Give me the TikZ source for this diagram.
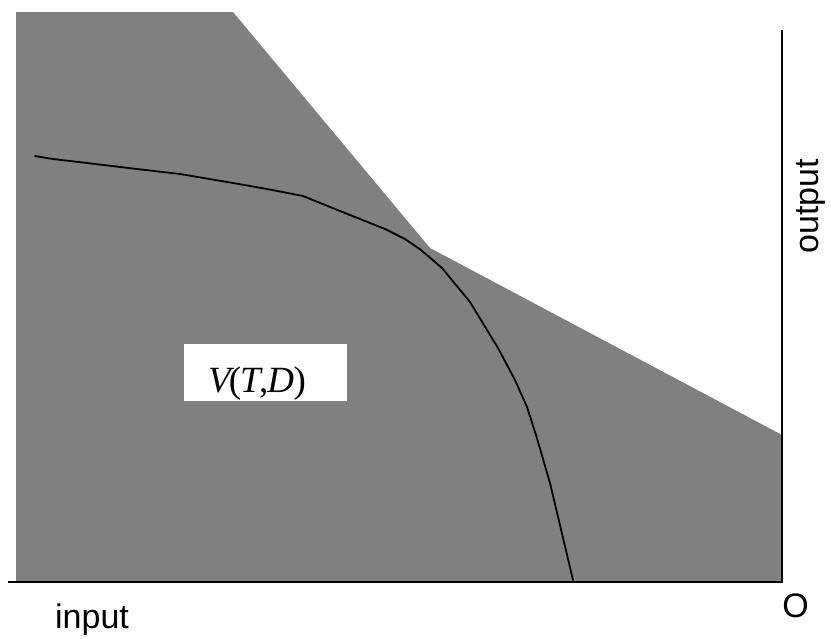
\documentclass[tikz,border=0pt]{standalone}
\usepackage{fontspec}
\setmainfont{Liberation Serif}
\newfontfamily\labelfont{Liberation Sans}
\definecolor{regiongray}{RGB}{128,128,128}
\begin{document}
\begin{tikzpicture}[x=1pt,y=-1pt,
  axisline/.style={black,line width=1.8pt},
  frontier/.style={black,line width=1.8pt,line join=round,line cap=round},
  axislabel/.style={font=\labelfont\fontsize{34}{40}\selectfont,inner sep=0pt},
  setbox/.style={fill=white,draw=none,minimum width=163pt,minimum height=57pt,inner sep=0pt},
  setlabel/.style={inner sep=0pt,font=\fontsize{37}{44}\selectfont}]
  \useasboundingbox (0,0) rectangle (831,638);
  % shaded technology set
  \fill[regiongray] (16,12) -- (233,12) -- (430,248) -- (782,435) -- (782,582) -- (16,582) -- cycle;
  % axes
  \coordinate (orig) at (782,582);
  \coordinate (xend) at (8,582);
  \coordinate (yend) at (782,30);
  \draw[axisline] (xend) -- (orig) -- (yend);
  % frontier curve
  \draw[frontier] (35,156) -- (53,159) -- (87,163) -- (137,169) -- (180,174)
    -- (233,183) -- (267,189) -- (303,196) -- (340,211) -- (385,229)
    -- (405,239) -- (421,250) -- (442,268) -- (470,302) -- (498,348)
    -- (515,380) -- (527,407) -- (536,435) -- (550,483) -- (573,580);
  % labels
  \node[setbox] (vbox) at (265.5,372.5) {};
  \node[setlabel,anchor=base west] (vset) at (208,392)
    {\itshape V\kern-2pt\upshape(\kern-1pt\itshape T\kern-1.5pt\upshape,\kern-1pt\itshape D\kern-0.5pt\upshape)};
  \node[axislabel,anchor=base west] (inlab) at (55,628) {input};
  \node[axislabel,anchor=base,rotate=90] (outlab) at (818,206) {output};
  \node[axislabel,anchor=base] (olab) at (795.5,617) {O};
\end{tikzpicture}
\end{document}
